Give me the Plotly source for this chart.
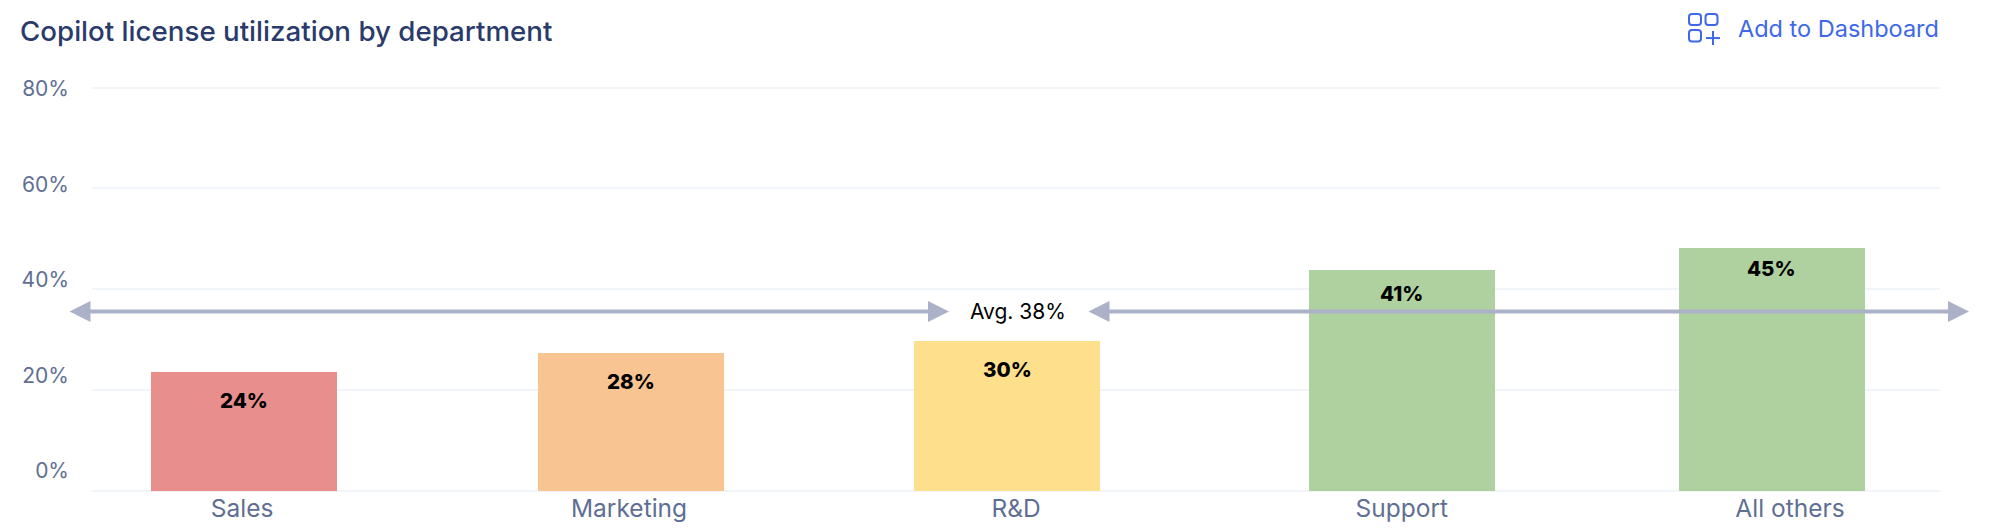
import plotly.graph_objects as go

# ------------------------------------------------------------------
# Data
# ------------------------------------------------------------------
departments = ["Sales", "Marketing", "R&D", "Support", "All others"]
bar_heights = [23.5, 27.4, 29.8, 43.9, 48.2]
bar_labels = ["24%", "28%", "30%", "41%", "45%"]
label_levels = [17.9, 21.7, 24.1, 39.1, 44.1]
y_ticks = [0, 20, 40, 60, 80]
y_tick_labels = ["0%", "20%", "40%", "60%", "80%"]
avg_level = 35.6
avg_label = "Avg. 38%"

# the source spaces its bars and labels unevenly (axis units, one per category)
bar_slots = [-0.089, 0.958, 1.976, 3.044, 4.045]
label_slots = [-0.094, 0.953, 2.0, 3.044, 4.094]
bar_colors = ["#E88E8C", "#F8C592", "#FEDF8C", "#AFD19F", "#AFD19F"]

# ------------------------------------------------------------------
# Layout constants
# ------------------------------------------------------------------
W, H = 1989, 528
M_L, M_R, M_T, M_B = 92, 49, 80, 36.5
FONT = "Inter"
TICK_COLOR = "#5F6F94"
GRID_COLOR = "#F1F4F8"
ARROW_COLOR = "#ABB2C8"
BLUE = "#3F68E8"


def px(x):
    return (x - M_L) / (W - M_L - M_R)


def py(y):
    return (H - M_B - y) / (H - M_T - M_B)


def rounded_rect(x0, y0, x1, y1, r=3):
    a, b, c, d = px(x0), py(y0), px(x1), py(y1)
    rx, ry = r / (W - M_L - M_R), r / (H - M_T - M_B)
    return (
        f"M{a + rx},{b} L{c - rx},{b} Q{c},{b} {c},{b - ry} L{c},{d + ry} Q{c},{d} {c - rx},{d} "
        f"L{a + rx},{d} Q{a},{d} {a},{d + ry} L{a},{b - ry} Q{a},{b} {a + rx},{b} Z"
    )


fig = go.Figure()

fig.add_trace(
    go.Bar(
        x=bar_slots,
        y=bar_heights,
        width=0.503,
        marker=dict(color=bar_colors, line=dict(width=0)),
        hoverinfo="skip",
        showlegend=False,
    )
)

# carries the y tick labels, which sit off the gridlines in the source
fig.add_trace(go.Scatter(x=[None], y=[None], yaxis="y2", showlegend=False, hoverinfo="skip"))

# value labels
for slot, level, label in zip(bar_slots, label_levels, bar_labels):
    fig.add_annotation(
        x=slot,
        y=level,
        text=label,
        showarrow=False,
        font=dict(family=FONT, size=20.5, color="black", weight=800),
    )

# average arrows, left and right of the label
for tip, length in [(949, 881), (1969, 882)]:
    fig.add_annotation(
        x=px(tip),
        y=avg_level,
        xref="paper",
        yref="y",
        ax=-length,
        ay=0,
        axref="pixel",
        ayref="pixel",
        text="",
        showarrow=True,
        arrowside="end+start",
        arrowhead=2,
        arrowwidth=4,
        arrowsize=1.05,
        arrowcolor=ARROW_COLOR,
        standoff=0,
        startstandoff=0,
        startarrowhead=2,
        startarrowsize=1.05,
    )

fig.add_annotation(
    x=px(1018),
    y=avg_level,
    xref="paper",
    yref="y",
    text=avg_label,
    showarrow=False,
    font=dict(family=FONT, size=21, color="black"),
)

fig.add_annotation(
    x=px(1940.5),
    y=py(28),
    xref="paper",
    yref="paper",
    xanchor="right",
    yanchor="middle",
    text="Add to Dashboard",
    showarrow=False,
    font=dict(family=FONT, size=23.5, color=BLUE),
)

# dashboard icon
for box in [(1689, 14, 1701, 25), (1705.5, 14, 1717.5, 25), (1689, 30, 1701, 41.5)]:
    fig.add_shape(
        type="path",
        path=rounded_rect(*box),
        xref="paper",
        yref="paper",
        line=dict(color=BLUE, width=2),
    )
fig.add_shape(type="line", xref="paper", yref="paper", x0=px(1706), x1=px(1720), y0=py(38), y1=py(38),
              line=dict(color=BLUE, width=2))
fig.add_shape(type="line", xref="paper", yref="paper", x0=px(1713), x1=px(1713), y0=py(31), y1=py(45),
              line=dict(color=BLUE, width=2))

fig.update_layout(
    width=W,
    height=H,
    margin=dict(l=M_L, r=M_R, t=M_T, b=M_B, autoexpand=False),
    paper_bgcolor="white",
    plot_bgcolor="white",
    font=dict(family=FONT),
    bargap=0,
    title=dict(
        text="Copilot license utilization by department",
        x=20 / W,
        xanchor="left",
        y=1 - 31 / H,
        yanchor="middle",
        font=dict(family=FONT, size=27.7, color="#2A3B6B", weight=500),
    ),
    xaxis=dict(
        range=[-0.5, 4.5],
        tickmode="array",
        tickvals=label_slots,
        ticktext=departments,
        tickfont=dict(family=FONT, size=24.5, color=TICK_COLOR),
        showgrid=False,
        zeroline=False,
        showline=False,
        ticks="",
        automargin=False,
    ),
    # top of the range runs past 80 so plotly keeps the 80% gridline
    yaxis=dict(
        range=[0, 81.49],
        tickmode="array",
        tickvals=y_ticks,
        showticklabels=False,
        gridcolor=GRID_COLOR,
        gridwidth=2,
        zeroline=True,
        zerolinecolor=GRID_COLOR,
        zerolinewidth=2,
        ticks="",
        automargin=False,
    ),
    yaxis2=dict(
        overlaying="y",
        side="left",
        range=[-4.29, 81.88],
        tickmode="array",
        tickvals=y_ticks,
        ticktext=y_tick_labels,
        tickfont=dict(family=FONT, size=21, color=TICK_COLOR),
        showgrid=False,
        zeroline=False,
        showline=False,
        ticks="",
        ticklabelstandoff=22,
        automargin=False,
    ),
)

fig.write_html("out.html", config=dict(displayModeBar=False), post_script="document.body.style.margin='0';")
